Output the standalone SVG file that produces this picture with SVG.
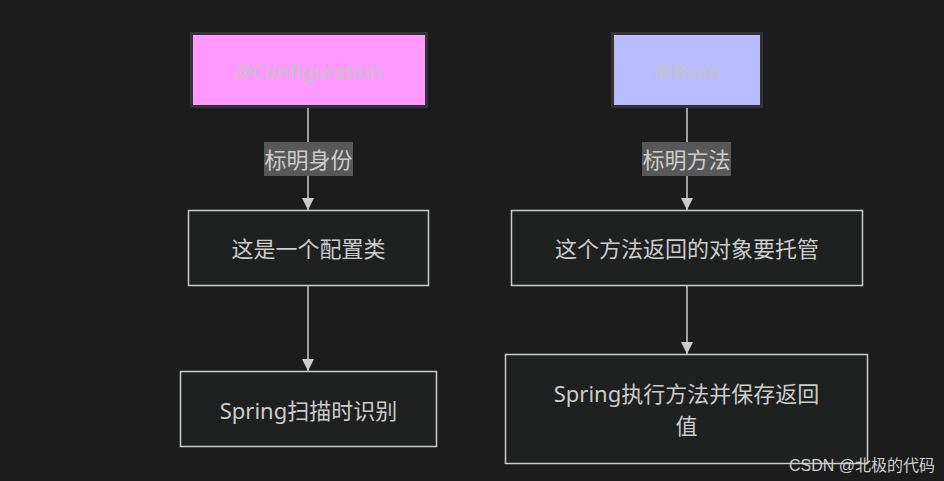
<svg xmlns="http://www.w3.org/2000/svg" width="944" height="481" viewBox="0 0 944 481">
<defs>
<style>
.t{font-family:"Noto Sans","Noto Sans CJK SC",sans-serif;font-size:22px;fill:#cccccc;text-anchor:middle;dominant-baseline:central}
.box{fill:#1f2020;stroke:#cccccc;stroke-width:1.5}
.edge{stroke:#cccccc;stroke-width:1.5;fill:none;marker-end:url(#arr)}
.lbl{fill:#585858}
.dim{fill:#c4c4c4}
</style>
<marker id="arr" viewBox="0 0 10 10" refX="10" refY="5" markerWidth="12" markerHeight="12" markerUnits="userSpaceOnUse" orient="auto">
<path d="M0,0 L10,5 L0,10 z" fill="#cccccc"/>
</marker>
</defs>
<rect width="944" height="481" fill="#1c1c1c"/>
<g id="edges">
<line class="edge" x1="308" y1="108" x2="308" y2="210"/>
<line class="edge" x1="308" y1="286" x2="308" y2="371"/>
<line class="edge" x1="687" y1="108" x2="687" y2="210"/>
<line class="edge" x1="687" y1="286" x2="687" y2="354"/>
<rect class="lbl" x="264" y="142" width="89" height="34"/>
<text class="t" x="308.5" y="159">标明身份</text>
<rect class="lbl" x="642" y="142" width="89" height="34"/>
<text class="t" x="686.5" y="159">标明方法</text>
</g>
<g id="config">
<rect x="191.5" y="33.5" width="235" height="73" fill="#ff99ff" stroke="#333333" stroke-width="3"/>
<text class="t dim" x="309" y="71" style="font-size:20px">@Configuration</text>
</g>
<g id="bean">
<rect x="612.5" y="33.5" width="149" height="73" fill="#bbbbff" stroke="#333333" stroke-width="3"/>
<text class="t dim" x="687" y="71" style="font-size:20px">@Bean</text>
</g>
<g id="n1">
<rect class="box" x="188.5" y="210.5" width="240" height="75"/>
<text class="t" x="308.5" y="248">这是一个配置类</text>
</g>
<g id="n2">
<rect class="box" x="180.5" y="371.5" width="256" height="75"/>
<text class="t" x="308.5" y="410">Spring扫描时识别</text>
</g>
<g id="n3">
<rect class="box" x="511.5" y="210.5" width="351" height="75"/>
<text class="t" x="687" y="248">这个方法返回的对象要托管</text>
</g>
<g id="n4">
<rect class="box" x="505.5" y="354.5" width="362" height="109"/>
<text class="t" x="686.5" y="393">Spring执行方法并保存返回</text>
<text class="t" x="686.5" y="425">值</text>
</g>
<text x="862" y="465" style="font-family:'Liberation Sans','Noto Sans CJK SC',sans-serif;font-size:16px;fill:#cfcfcf;text-anchor:middle;dominant-baseline:central">CSDN @北极的代码</text>
</svg>
